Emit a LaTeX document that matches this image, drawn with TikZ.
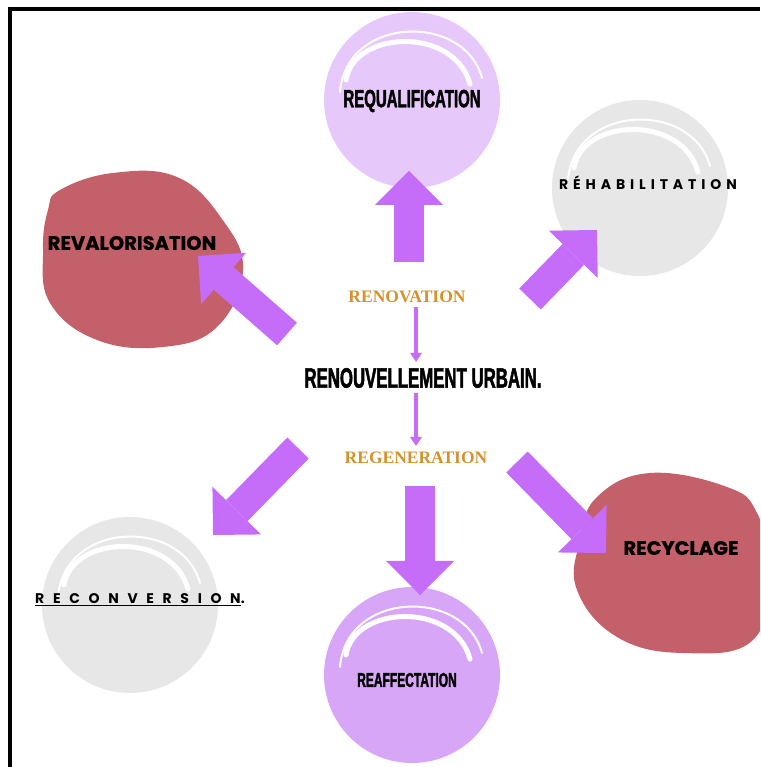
\documentclass[tikz,border=0pt]{standalone}
\usepackage{fontspec}
\setmainfont{Liberation Sans}
\newfontfamily\narrowfont[FakeStretch=0.6, FakeBold=1.6]{Liberation Sans}
\newfontfamily\geofont[FakeBold=0.8]{Poppins}
\newfontfamily\spacedfont[LetterSpace=35]{Poppins}
\newfontfamily\widefont[LetterSpace=62]{Poppins}
\newfontfamily\serifbold{Liberation Serif}
\usepackage{tikz}
\usetikzlibrary{arrows.meta,positioning,calc}

\definecolor{arrowpurple}{HTML}{C56CF9}
\definecolor{lilaclight}{HTML}{E6C8FB}
\definecolor{lilac}{HTML}{D8A6F6}
\definecolor{paleGray}{HTML}{E7E7E7}
\definecolor{blobred}{HTML}{C4606A}
\definecolor{ochre}{HTML}{D4912E}

\tikzset{
    bigarrow/.style={draw=arrowpurple, line width=30pt, -{Triangle[length=34pt,width=68pt,line width=0pt]}},
    thinarrow/.style={draw=arrowpurple, line width=3.5pt, -{Triangle[length=9pt,width=12pt,line width=0pt]}},
    label/.style={inner sep=0pt, text=black},
    pics/sketchball/.style={code={
        \fill[#1] (0,0) circle (88);
        \draw[white, line width=5pt, line cap=round] (-66,20) .. controls (-58,70) and (42,74) .. (58,16);
        \draw[white, line width=2pt, line cap=round] (-72,8) .. controls (-66,84) and (52,88) .. (70,22);
    }}
}

\begin{document}
\begin{tikzpicture}[x=1pt, y=1pt]
    \useasboundingbox (0,0) rectangle (760,767);
    \clip (0,0) rectangle (760,767);

    % frame
    \draw[line width=4pt] (10,0) -- (10,758) -- (760,758);

    % blobs
    \pic at (412,667) {sketchball=lilaclight};
    \pic at (640,579) {sketchball=paleGray};
    \pic at (130,162) {sketchball=paleGray};
    \pic at (412,92) {sketchball=lilac};
    \fill[blobred] plot[smooth cycle, tension=0.7] coordinates {(60,577) (113,594) (177,590) (222,548) (243,497) (217,440) (163,420) (97,427) (50,464) (43,517) (48,557)};
    \fill[blobred] plot[smooth cycle, tension=0.7] coordinates {(597,270) (650,294) (727,280) (757,254) (770,197) (753,127) (683,114) (617,130) (577,177) (580,227)};

    % arrow ends
    \coordinate (upT) at (409,505);   \coordinate (upH) at (409,596);
    \coordinate (neT) at (530,468);   \coordinate (neH) at (597,537);
    \coordinate (nwT) at (287,433);   \coordinate (nwH) at (198,511);
    \coordinate (swT) at (298,319);   \coordinate (swH) at (213,232);
    \coordinate (dnT) at (420,281);   \coordinate (dnH) at (420,172);
    \coordinate (seT) at (517,305);   \coordinate (seH) at (606,214);

    \foreach \t/\h in {upT/upH, neT/neH, nwT/nwH, swT/swH, dnT/dnH, seT/seH}
        \draw[bigarrow] (\t) -- (\h);

    % texts
    \node[label] (requal) at (412,666) {\narrowfont\bfseries\fontsize{25}{27}\selectfont REQUALIFICATION};
    \node[label] (rehab) at (648,584) {\spacedfont\bfseries\fontsize{14}{16}\selectfont RÉHABILITATION};
    \node[label] (reval) at (132,524) {\geofont\bfseries\fontsize{19.5}{21}\selectfont REVALORISATION};
    \node[label, text=ochre] (renov) at (407,470) {\serifbold\bfseries\fontsize{17.5}{19}\selectfont RENOVATION};
    \node[label] (urbain) at (423,389) {\narrowfont\bfseries\fontsize{28}{30}\selectfont RENOUVELLEMENT URBAIN.};
    \node[label, text=ochre] (regen) at (416,309) {\serifbold\bfseries\fontsize{17.5}{19}\selectfont REGENERATION};
    \node[label] (recyc) at (681,219) {\geofont\bfseries\fontsize{19.5}{21}\selectfont RECYCLAGE};
    \node[label, anchor=west] (reconv) at (35,167) {\widefont\bfseries\fontsize{14}{16}\selectfont \underline{RECONVERSION}.};
    \node[label] (reaff) at (407,87) {\narrowfont\bfseries\fontsize{20}{22}\selectfont REAFFECTATION};

    % small arrows
    \draw[thinarrow] ([yshift=-4pt]renov.south -| 416,0) -- ([yshift=6pt]urbain.north -| 416,0);
    \draw[thinarrow] ([yshift=-5pt]urbain.south -| 416,0) -- ([yshift=6pt]regen.north -| 416,0);
\end{tikzpicture}
\end{document}
